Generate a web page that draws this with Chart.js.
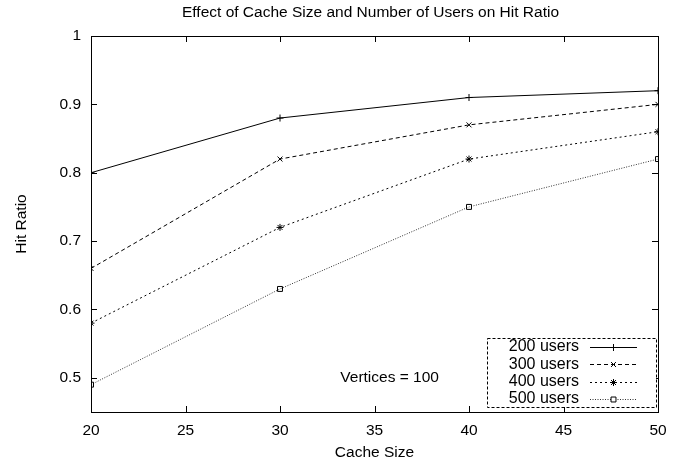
<!DOCTYPE html>
<html><head><meta charset="utf-8">
<script src="https://cdn.jsdelivr.net/npm/chart.js@4.4.1/dist/chart.umd.min.js"></script>
<style>html,body{margin:0;padding:0;background:#fff}#wrap{width:688px;height:466px}</style>
</head><body><div id="wrap"><canvas id="c"></canvas></div>
<script>
const cacheSizes = [20, 30, 40, 50];
const users200 = [0.80, 0.88, 0.91, 0.92];
const users300 = [0.66, 0.82, 0.87, 0.90];
const users400 = [0.58, 0.72, 0.82, 0.86];
const users500 = [0.49, 0.63, 0.75, 0.82];
const seriesLabels = ['200 users', '300 users', '400 users', '500 users'];
const xTicks = [20, 25, 30, 35, 40, 45, 50];
const yTicks = [0.5, 0.6, 0.7, 0.8, 0.9, 1];
const chartTitle = 'Effect of Cache Size and Number of Users on Hit Ratio';
const annotation = 'Vertices = 100';

const FONT = 'Liberation Sans, Arial, Helvetica, sans-serif';
const FS = 15.5;
const styles = [
  {dash: [], point: 'cross', color: '#000'},
  {dash: [4, 3], point: 'crossRot', color: '#000'},
  {dash: [2, 3], point: 'star', color: '#000'},
  {dash: [1, 1.5], point: 'rect', color: '#333'}
];
const values = [users200, users300, users400, users500];

const datasets = values.map((v, i) => ({
  label: seriesLabels[i],
  data: cacheSizes.map((x, j) => ({x: x, y: v[j]})),
  borderColor: styles[i].color,
  borderWidth: 1,
  borderDash: styles[i].dash,
  pointStyle: styles[i].point,
  pointRadius: 3.5,
  pointBorderWidth: 1,
  pointBorderColor: '#000',
  pointBackgroundColor: 'rgba(255,255,255,0)',
  fill: false,
  tension: 0
}));

const gnuplotDeco = {
  id: 'gnuplotDeco',
  afterDatasetsDraw(chart) {
    const ctx = chart.ctx, a = chart.chartArea;
    const xs = chart.scales.x, ys = chart.scales.y;
    ctx.save();
    ctx.strokeStyle = '#000';
    ctx.lineWidth = 1;
    ctx.setLineDash([]);
    const L = 6;
    ctx.beginPath();
    xTicks.forEach(t => {
      const px = Math.round(xs.getPixelForValue(t)) + 0.5;
      ctx.moveTo(px, a.bottom); ctx.lineTo(px, a.bottom - L);
      ctx.moveTo(px, a.top); ctx.lineTo(px, a.top + L);
    });
    yTicks.forEach(t => {
      const py = Math.round(ys.getPixelForValue(t)) + 0.5;
      ctx.moveTo(a.left, py); ctx.lineTo(a.left + L, py);
      ctx.moveTo(a.right, py); ctx.lineTo(a.right - L, py);
    });
    ctx.stroke();
    ctx.strokeRect(Math.round(a.left) + 0.5, Math.round(a.top) + 0.5, Math.round(a.right - a.left), Math.round(a.bottom - a.top));

    // title
    ctx.fillStyle = '#000';
    ctx.font = FS + 'px ' + FONT;
    ctx.textAlign = 'center';
    ctx.textBaseline = 'middle';
    ctx.fillText(chartTitle, (a.left + a.right) / 2 - 4, 13);

    // annotation
    ctx.fillText(annotation, xs.getPixelForValue(35.8), ys.getPixelForValue(0.5));

    // legend
    const bx = a.right - 171, by = a.bottom - 74, bw = 169, bh = 69;
    ctx.fillStyle = '#fff';
    ctx.fillRect(bx, by, bw, bh);
    ctx.strokeStyle = '#000';
    ctx.setLineDash([3, 2]);
    ctx.strokeRect(bx + 0.5, by + 0.5, bw, bh);
    ctx.font = (FS + 0.5) + 'px ' + FONT;
    ctx.textAlign = 'right';
    seriesLabels.forEach((lab, i) => {
      const y = by + 9 + i * 17.3;
      ctx.setLineDash([]);
      ctx.fillStyle = '#000';
      ctx.fillText(lab, bx + 92, y);
      const x0 = bx + 103, x1 = bx + 150;
      ctx.strokeStyle = styles[i].color;
      ctx.setLineDash(styles[i].dash);
      ctx.beginPath();
      ctx.moveTo(x0, Math.round(y) + 0.5); ctx.lineTo(x1, Math.round(y) + 0.5);
      ctx.stroke();
      ctx.setLineDash([]);
      ctx.strokeStyle = '#000';
      ctx.fillStyle = '#fff';
      Chart.helpers.drawPoint(ctx, {pointStyle: styles[i].point, radius: 3.5, borderWidth: 1}, (x0 + x1) / 2, Math.round(y) + 0.5);
    });
    ctx.restore();
  }
};

new Chart(document.getElementById('c'), {
  type: 'line',
  data: {datasets: datasets},
  plugins: [gnuplotDeco],
  options: {
    responsive: true,
    maintainAspectRatio: false,
    animation: false,
    devicePixelRatio: 1,
    layout: {padding: {top: 36, right: 30, bottom: 0, left: 0}},
    plugins: {legend: {display: false}, title: {display: false}, tooltip: {enabled: false}},
    scales: {
      x: {
        type: 'linear', min: 20, max: 50,
        afterBuildTicks: s => { s.ticks = xTicks.map(v => ({value: v})); },
        afterFit: s => { s.height = 54; },
        grid: {display: false, drawTicks: false},
        border: {display: false},
        ticks: {color: '#000', font: {family: FONT, size: FS}, padding: 9, maxRotation: 0},
        title: {display: true, text: 'Cache Size', color: '#000', font: {family: FONT, size: FS}, padding: {top: 4, bottom: 4}}
      },
      y: {
        type: 'linear', min: 0.45, max: 1,
        afterBuildTicks: s => { s.ticks = yTicks.map(v => ({value: v})); },
        afterFit: s => { s.width = 91; },
        grid: {display: false, drawTicks: false},
        border: {display: false},
        ticks: {color: '#000', font: {family: FONT, size: FS}, padding: 10, callback: v => String(Math.round(v * 10) / 10)},
        title: {display: true, text: 'Hit Ratio', color: '#000', font: {family: FONT, size: FS}, padding: {top: 12, bottom: 12}}
      }
    }
  }
});
</script>
</body></html>
